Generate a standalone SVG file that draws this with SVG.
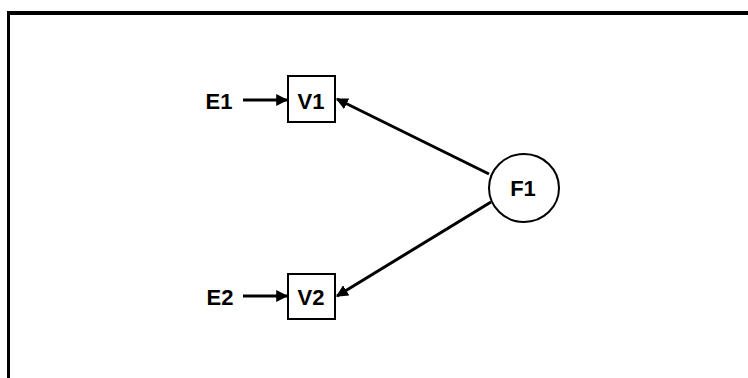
<svg xmlns="http://www.w3.org/2000/svg" width="748" height="378" viewBox="0 0 748 378">
<style>
.node{fill:#fff;stroke:#000;stroke-width:2}
.lbl{font-family:"Liberation Sans",Arial,sans-serif;font-weight:bold;font-size:22px;fill:#000;text-anchor:middle}
.conn{stroke:#000;stroke-width:3;fill:none}
</style>
<defs>
<marker id="ah" viewBox="0 0 10 10" refX="9" refY="5" markerWidth="4" markerHeight="4" orient="auto" markerUnits="strokeWidth">
<path d="M0,0 L10,5 L0,10 z" fill="#000"/>
</marker>
</defs>
<rect width="748" height="378" fill="#fff"/>
<g id="frame">
<line x1="8" y1="13" x2="748" y2="13" stroke="#000" stroke-width="4"/>
<line x1="8.5" y1="11" x2="8.5" y2="378" stroke="#000" stroke-width="3"/>
</g>
<g id="connectors">
<line class="conn" x1="243" y1="100" x2="287" y2="100" marker-end="url(#ah)"/>
<line class="conn" x1="243" y1="296" x2="287" y2="296" marker-end="url(#ah)"/>
<line class="conn" x1="489" y1="174" x2="337" y2="99" marker-end="url(#ah)"/>
<line class="conn" x1="491" y1="202" x2="337" y2="296" marker-end="url(#ah)"/>
</g>
<g id="E1"><text class="lbl" x="219" y="109">E1</text></g>
<g id="E2"><text class="lbl" x="220" y="305">E2</text></g>
<g id="V1"><rect class="node" x="288" y="76" width="47" height="46"/><text class="lbl" x="311" y="109">V1</text></g>
<g id="V2"><rect class="node" x="288" y="274" width="47" height="45"/><text class="lbl" x="311" y="305">V2</text></g>
<g id="F1"><ellipse class="node" cx="524" cy="188" rx="35" ry="34"/><text class="lbl" x="523" y="196">F1</text></g>
</svg>
